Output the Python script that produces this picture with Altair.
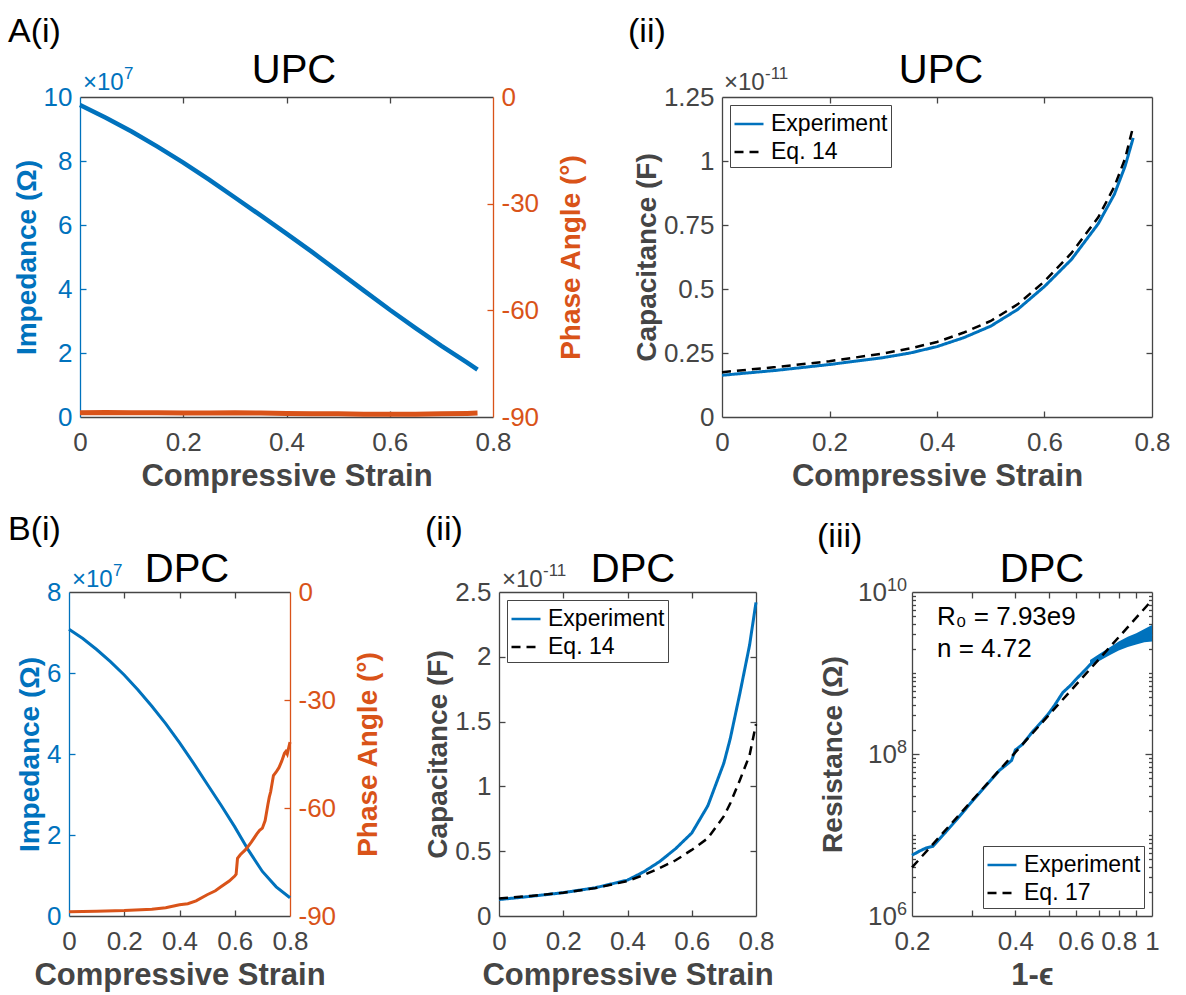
import altair as alt
import pandas as pd

# ------------------------------------------------------------------ data
# A(i) UPC: impedance magnitude (in units of 1e7 ohm) and phase angle (deg)
a1_strain = [0.00, 0.05, 0.10, 0.15, 0.20, 0.25, 0.30, 0.35, 0.40, 0.45, 0.50,
             0.55, 0.60, 0.65, 0.70, 0.75, 0.77]
a1_impedance = [9.75, 9.35, 8.92, 8.45, 7.95, 7.42, 6.86, 6.30, 5.73, 5.15, 4.55,
                3.95, 3.35, 2.78, 2.22, 1.70, 1.48]
a1_phase = [-88.8, -88.7, -88.8, -88.8, -88.9, -88.9, -88.8, -88.9, -89.0, -89.1,
            -89.1, -89.2, -89.2, -89.2, -89.1, -89.0, -88.9]

# A(ii) UPC: capacitance (in units of 1e-11 F)
a2_strain = [0.00, 0.10, 0.20, 0.30, 0.35, 0.40, 0.45, 0.50, 0.55, 0.60, 0.65,
             0.70, 0.73, 0.75, 0.765]
a2_experiment = [0.163, 0.182, 0.205, 0.232, 0.250, 0.275, 0.310, 0.355, 0.420,
                 0.510, 0.615, 0.755, 0.870, 0.980, 1.090]
a2_eq14 = [0.175, 0.195, 0.218, 0.248, 0.268, 0.293, 0.330, 0.375, 0.440, 0.530,
           0.640, 0.780, 0.900, 1.010, 1.135]

# B(i) DPC: impedance (1e7 ohm) and phase angle (deg)
b1_strain = [0.00, 0.05, 0.10, 0.15, 0.20, 0.25, 0.30, 0.35, 0.40, 0.45, 0.50,
             0.55, 0.60, 0.65, 0.70, 0.75, 0.80]
b1_impedance = [7.08, 6.85, 6.58, 6.28, 5.95, 5.58, 5.18, 4.75, 4.28, 3.78, 3.26,
                2.74, 2.20, 1.62, 1.10, 0.72, 0.45]
b1_phase_strain = [0.00, 0.10, 0.20, 0.30, 0.35, 0.40, 0.43, 0.46, 0.50, 0.53,
                   0.55, 0.58, 0.60, 0.605, 0.61, 0.62, 0.64, 0.66, 0.68, 0.69,
                   0.70, 0.71, 0.72, 0.725, 0.73, 0.74, 0.75, 0.76, 0.77, 0.78,
                   0.785, 0.79, 0.80]
b1_phase = [-88.8, -88.7, -88.5, -88.1, -87.7, -86.9, -86.6, -85.8, -84.1, -83.0,
            -81.9, -80.3, -78.9, -78.4, -74.0, -73.0, -71.5, -69.5, -67.2, -66.2,
            -65.6, -63.5, -59.0, -57.0, -55.5, -51.0, -50.0, -48.8, -47.0, -44.8,
            -44.3, -45.0, -41.7]

# B(ii) DPC: capacitance (1e-11 F)
b2_strain = [0.00, 0.10, 0.20, 0.30, 0.40, 0.45, 0.50, 0.55, 0.60, 0.65, 0.70,
             0.72, 0.75, 0.78, 0.80]
b2_experiment = [0.127, 0.152, 0.180, 0.218, 0.277, 0.340, 0.420, 0.520, 0.640,
                 0.850, 1.180, 1.370, 1.720, 2.090, 2.420]
b2_eq14 = [0.135, 0.155, 0.180, 0.215, 0.270, 0.315, 0.370, 0.430, 0.510, 0.600,
           0.770, 0.870, 1.050, 1.240, 1.480]

# B(iii) DPC: resistance (ohm) vs 1-strain
b3_x = [0.20, 0.21, 0.22, 0.23, 0.25, 0.27, 0.30, 0.33, 0.36, 0.38, 0.39, 0.40,
        0.42, 0.45, 0.48, 0.50, 0.52, 0.55, 0.58, 0.60, 0.64, 0.67, 0.70, 0.75,
        0.80, 0.85, 0.90, 0.95, 1.00]
b3_resistance = [5.62e6, 6.31e6, 6.92e6, 7.24e6, 1.07e7, 1.55e7, 2.63e7, 4.17e7,
                 6.31e7, 7.59e7, 8.32e7, 1.12e8, 1.32e8, 1.91e8, 2.57e8, 3.16e8,
                 3.98e8, 5.75e8, 7.08e8, 8.32e8, 1.10e9, 1.35e9, 1.51e9, 1.82e9,
                 2.09e9, 2.34e9, 2.57e9, 2.82e9, 3.02e9]
# spread of the noisy measurement near the end of the B(iii) curve
b3_band_x = [0.66, 0.70, 0.75, 0.80, 0.85, 0.90, 0.95, 1.00]
b3_band_lo = [1.25e9, 1.40e9, 1.65e9, 1.90e9, 2.10e9, 2.25e9, 2.40e9, 2.45e9]
b3_band_hi = [1.45e9, 1.70e9, 2.05e9, 2.45e9, 2.80e9, 3.10e9, 3.50e9, 3.90e9]
b3_fit_x = [0.2, 1.0]
b3_fit_r = [3.98e6, 7.93e9]
# log-axis tick labels of B(iii): base and exponent
b3_label_values = [1e6, 1e8, 1e10]
b3_label_exps = ["6", "8", "10"]

# ------------------------------------------------------------------ style
FONT = "Liberation Sans"
GRAY = "#454545"
BLUE = "#0072BD"
ORANGE = "#D95319"
TICK = 6
LW = 1.3
LABEL_SIZE = 26
YT_SIZE = 28
XT_SIZE = 31


def lab_axis(orient, values, title, color=GRAY, fmt=None, expr=None, lpad=8,
             tpad=2, tangle=None, tbase=None, tsize=YT_SIZE, labels=True):
    kw = dict(orient=orient, values=values, title=title, ticks=False, domain=True,
              domainColor=color, domainWidth=LW, labelColor=color, labelFont=FONT,
              labelFontSize=LABEL_SIZE, labelPadding=lpad, labelFlush=False,
              labelOverlap=False, grid=False, titleFont=FONT, titleFontSize=tsize,
              titleFontWeight="bold", titleColor=color, titlePadding=tpad,
              labels=labels, minExtent=0)
    if fmt:
        kw["format"] = fmt
    if expr:
        kw["labelExpr"] = expr
    if tangle is not None:
        kw["titleAngle"] = tangle
    if tbase:
        kw["titleBaseline"] = tbase
    return alt.Axis(**kw)


def tick_axis(orient, values, offset, color=GRAY, size=TICK, domain=False):
    return alt.Axis(orient=orient, values=values, offset=offset, title=None,
                    labels=False, ticks=True, tickSize=size, tickColor=color,
                    tickWidth=LW, domain=domain, domainColor=color,
                    domainWidth=LW, grid=False, minExtent=0, maxExtent=0)


def txt(s, x, y, size, color="black", weight="normal", align="left"):
    return alt.Chart(pd.DataFrame({"t": [s]})).mark_text(
        align=align, baseline="alphabetic", font=FONT, fontSize=size,
        fontWeight=weight, color=color,
    ).encode(x=alt.value(x), y=alt.value(y), text="t:N")


def box(w, h, margins):
    # invisible frame that fixes the extent of each panel's cell in the layout
    left, right, top, bottom = margins
    return alt.Chart(pd.DataFrame({"b": [0]})).mark_rect(opacity=0).encode(
        x=alt.value(-left), x2=alt.value(w + right),
        y=alt.value(-top), y2=alt.value(h + bottom))


def spacer(h, margins):
    return box(1, h, margins).properties(width=1, height=h)


def exponent(base_x, base_y, exp, color):
    return [txt("×10", base_x, base_y, 24, color),
            txt(exp, base_x + 41, base_y - 11, 17, color)]


def make_legend(orient):
    return alt.Legend(title=None, orient=orient, offset=8, padding=3, rowPadding=0,
                      strokeColor=GRAY, fillColor="white", symbolType="stroke",
                      symbolSize=841, symbolStrokeWidth=2.6, labelFont=FONT,
                      labelFontSize=23, labelColor="black", labelOffset=6,
                      cornerRadius=0, labelLimit=300)


def sc(dom, stype="linear"):
    return alt.Scale(type=stype, domain=dom, nice=False, zero=False)


PHASE_EXPR = "'' + datum.value"


def dual_panel(strain, imp, ph_strain, ph, w, h, imp_dom, imp_vals, imp_in,
               imp_lw, ph_lw, texts, margins):
    df_i = pd.DataFrame({"strain": strain, "imp": imp})
    df_p = pd.DataFrame({"strain": ph_strain, "phase": ph})
    xs = sc([0, 0.8])
    yi = sc(imp_dom)
    yp = sc([-90, 0])
    xin = [0.2, 0.4, 0.6]
    l1 = alt.Chart(df_i).mark_line(color=BLUE, strokeWidth=imp_lw).encode(
        x=alt.X("strain:Q", scale=xs,
                axis=lab_axis("bottom", [0, 0.2, 0.4, 0.6, 0.8], "Compressive Strain",
                              fmt=".1~f", lpad=12, tpad=6, tsize=XT_SIZE)),
        y=alt.Y("imp:Q", scale=yi,
                axis=lab_axis("left", imp_vals, "Impedance (Ω)", color=BLUE, fmt="d")),
    )
    l2 = alt.Chart(df_p).mark_line(color=ORANGE, strokeWidth=ph_lw).encode(
        x=alt.X("strain:Q", scale=xs, axis=tick_axis("bottom", xin, -h, domain=True)),
        y=alt.Y("phase:Q", scale=yp,
                axis=lab_axis("right", [-90, -60, -30, 0], "Phase Angle (°)",
                              color=ORANGE, expr=PHASE_EXPR, tangle=270,
                              tbase="top", tpad=19)),
    )
    l3 = alt.Chart(df_i).mark_line(opacity=0).encode(
        x=alt.X("strain:Q", scale=xs, axis=tick_axis("top", xin, -h)),
        y=alt.Y("imp:Q", scale=yi, axis=tick_axis("right", imp_in, -w, color=BLUE)),
    )
    l4 = alt.Chart(df_p).mark_line(opacity=0).encode(
        x=alt.X("strain:Q", scale=xs, axis=None),
        y=alt.Y("phase:Q", scale=yp,
                axis=tick_axis("left", [-60, -30], -w, color=ORANGE)),
    )
    return alt.layer(box(w, h, margins), l1, l2, l3, l4, *texts).resolve_scale(
        x="independent", y="independent").properties(width=w, height=h)


def std_panel(df_exp, df_eq, xf, yf, series, w, h, xs, ys, xlab, ylab, xin, yin,
              legend_orient, texts, margins, ysize=TICK, extra=()):
    leg = make_legend(legend_orient)
    color = alt.Color("series:N", scale=alt.Scale(domain=series, range=[BLUE, "black"]),
                      legend=leg)
    dash = alt.StrokeDash("series:N",
                          scale=alt.Scale(domain=series, range=[[1, 0], [9, 6]]),
                          legend=leg)
    l1 = alt.Chart(df_exp).mark_line(strokeWidth=3).encode(
        x=alt.X(xf, type="quantitative", scale=xs, axis=xlab),
        y=alt.Y(yf, type="quantitative", scale=ys, axis=ylab),
        color=color, strokeDash=dash)
    l2 = alt.Chart(df_eq).mark_line(strokeWidth=2.5).encode(
        x=alt.X(xf, type="quantitative", scale=xs, axis=tick_axis("top", xin, -h)),
        y=alt.Y(yf, type="quantitative", scale=ys,
                axis=tick_axis("right", yin, -w, size=ysize)),
        color=color, strokeDash=dash)
    l3 = alt.Chart(df_eq).mark_line(opacity=0).encode(
        x=alt.X(xf, type="quantitative", scale=xs,
                axis=tick_axis("bottom", xin, -h, domain=True)),
        y=alt.Y(yf, type="quantitative", scale=ys,
                axis=tick_axis("left", yin, -w, size=ysize, domain=True)))
    return alt.layer(box(w, h, margins), *extra, l1, l2, l3, *texts).resolve_scale(
        x="independent", y="independent").properties(width=w, height=h)


# ------------------------------------------------------------------ panels
A1_W, A1_H = 413, 320
A2_W, A2_H = 430, 320
B1_W, B2_W, B3_W, B_H = 221, 257, 240, 324
TOP_M = (97, 78)      # space above / below the top-row plots
BOT_M = (97, 79)      # space above / below the bottom-row plots

A1 = dual_panel(a1_strain, a1_impedance, a1_strain, a1_phase, A1_W, A1_H,
                [0, 10], [0, 2, 4, 6, 8, 10], [2, 4, 6, 8], 4.5, 5,
                [txt("A(i)", -72, -55, 34), txt("UPC", 214, -14, 40, align="center")]
                + exponent(3, -7, "7", BLUE),
                (79, 107) + TOP_M)

B1 = dual_panel(b1_strain, b1_impedance, b1_phase_strain, b1_phase, B1_W, B_H,
                [0, 8], [0, 2, 4, 6, 8], [2, 4, 6], 3, 3,
                [txt("B(i)", -61, -52, 34), txt("DPC", 118, -10, 40, align="center")]
                + exponent(3, -5, "7", BLUE),
                (68, 130) + BOT_M)

ser14 = ["Experiment", "Eq. 14"]
a2_exp_df = pd.DataFrame({"strain": a2_strain, "cap": a2_experiment, "series": "Experiment"})
a2_eq_df = pd.DataFrame({"strain": a2_strain, "cap": a2_eq14, "series": "Eq. 14"})
A2 = std_panel(
    a2_exp_df, a2_eq_df, "strain", "cap", ser14, A2_W, A2_H, sc([0, 0.8]), sc([0, 1.25]),
    lab_axis("bottom", [0, 0.2, 0.4, 0.6, 0.8], "Compressive Strain", fmt=".1~f",
             lpad=12, tpad=6, tsize=XT_SIZE),
    lab_axis("left", [0, 0.25, 0.5, 0.75, 1, 1.25], "Capacitance (F)", fmt=".2~f"),
    [0.2, 0.4, 0.6], [0.25, 0.5, 0.75, 1], "top-left",
    [txt("(ii)", -94, -55, 34), txt("UPC", 219, -14, 40, align="center")]
    + exponent(2, -7, "-11", GRAY),
    (122, 34) + TOP_M)

b2_exp_df = pd.DataFrame({"strain": b2_strain, "cap": b2_experiment, "series": "Experiment"})
b2_eq_df = pd.DataFrame({"strain": b2_strain, "cap": b2_eq14, "series": "Eq. 14"})
B2 = std_panel(
    b2_exp_df, b2_eq_df, "strain", "cap", ser14, B2_W, B_H, sc([0, 0.8]), sc([0, 2.5]),
    lab_axis("bottom", [0, 0.2, 0.4, 0.6, 0.8], "Compressive Strain", fmt=".1~f",
             lpad=12, tpad=6, tsize=XT_SIZE),
    lab_axis("left", [0, 0.5, 1, 1.5, 2, 2.5], "Capacitance (F)", fmt=".1~f"),
    [0.2, 0.4, 0.6], [0.5, 1, 1.5, 2], "top-left",
    [txt("(ii)", -74, -52, 34), txt("DPC", 134, -10, 40, align="center")]
    + exponent(3, -5, "-11", GRAY),
    (79, 44) + BOT_M)

ser17 = ["Experiment", "Eq. 17"]
b3_exp_df = pd.DataFrame({"x": b3_x, "r": b3_resistance, "series": "Experiment"})
b3_eq_df = pd.DataFrame({"x": b3_fit_x, "r": b3_fit_r, "series": "Eq. 17"})
b3_minor = [m * 10 ** e for e in range(6, 10) for m in range(1, 10)
            if 1e6 < m * 10 ** e < 1e10]
B3_XS = sc([0.2, 1], "log")
B3_YS = sc([1e6, 1e10], "log")


def log_label(value, exp):
    # "10" with a raised exponent, placed at the tick through the log scale
    sup_w = 10 * len(exp)
    df = pd.DataFrame({"r": [value], "base": ["10"], "exp": [exp]})
    base = alt.Chart(df).mark_text(
        align="right", baseline="middle", font=FONT, fontSize=LABEL_SIZE, color=GRAY,
        dy=1).encode(x=alt.value(-5 - sup_w),
                     y=alt.Y("r:Q", scale=B3_YS, axis=None), text="base:N")
    sup = alt.Chart(df).mark_text(
        align="left", baseline="alphabetic", font=FONT, fontSize=18, color=GRAY,
        dy=-1).encode(x=alt.value(-5 - sup_w),
                      y=alt.Y("r:Q", scale=B3_YS, axis=None), text="exp:N")
    return [base, sup]


b3_labels = []
for v, e in zip(b3_label_values, b3_label_exps):
    b3_labels += log_label(v, e)

b3_band = alt.Chart(pd.DataFrame({"x": b3_band_x, "lo": b3_band_lo,
                                  "hi": b3_band_hi})).mark_area(
    color=BLUE, opacity=1).encode(
    x=alt.X("x:Q", scale=B3_XS, axis=None),
    y=alt.Y("lo:Q", scale=B3_YS, axis=None),
    y2="hi:Q")

B3 = std_panel(
    b3_exp_df, b3_eq_df, "x", "r", ser17, B3_W, B_H, B3_XS, B3_YS,
    lab_axis("bottom", [0.2, 0.4, 0.6, 0.8, 1], "1-ϵ", fmt=".1~f", lpad=12, tpad=6,
             tsize=XT_SIZE),
    lab_axis("left", b3_label_values, "Resistance (Ω)", labels=False, tpad=65),
    [0.3, 0.4, 0.5, 0.6, 0.7, 0.8, 0.9], b3_minor, "bottom-right",
    [txt("(iii)", -95, -45, 34), txt("DPC", 130, -10, 40, align="center"),
     txt("R₀ = 7.93e9", 25, 33, 26), txt("n = 4.72", 25, 65, 26)] + b3_labels,
    (112, 34) + BOT_M,
    ysize={"condition": {"test": "datum.value > 9e7 && datum.value < 1.1e8",
                         "value": 7}, "value": 3.5},
    extra=(b3_band,))


def independent(c):
    return c.resolve_scale(
        x="independent", y="independent", color="independent",
        strokeDash="independent"
    ).resolve_legend(color="independent", strokeDash="independent")


top_row = independent(alt.hconcat(spacer(A1_H, (0, 0) + TOP_M), A1, A2, spacing=0))
bottom_row = independent(alt.hconcat(spacer(B_H, (0, 0) + BOT_M), B1, B2, B3, spacing=0))

chart = independent(alt.vconcat(top_row, bottom_row, spacing=0)).properties(
    padding=0).configure_view(stroke=None)

chart.save("out.html", embed_options={"renderer": "svg", "actions": False})
